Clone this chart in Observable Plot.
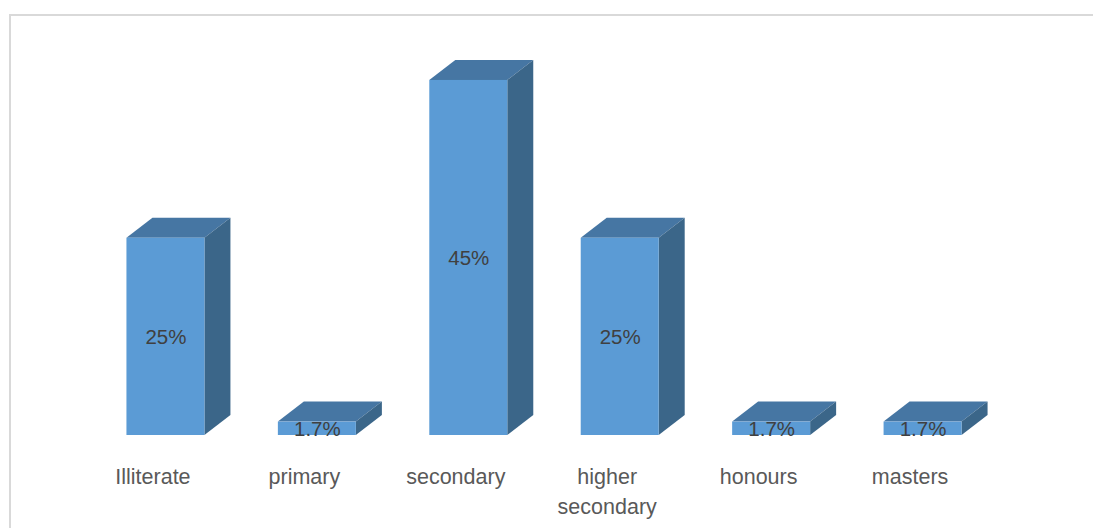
<!DOCTYPE html>
<html>
<head>
<meta charset="utf-8">
<script src="https://cdn.jsdelivr.net/npm/d3@7"></script>
<script src="https://cdn.jsdelivr.net/npm/@observablehq/plot@0.6"></script>
<style>
  html, body { margin: 0; padding: 0; background: #fff; overflow: hidden; }
  #wrap { position: relative; width: 1093px; height: 528px; overflow: hidden; }
  #border { position: absolute; left: 9px; top: 14px; width: 2000px; height: 2000px;
            border-left: 2px solid #d9d9d9; border-top: 2px solid #d9d9d9; }
  #chart { position: absolute; left: 0; top: 0; }
</style>
</head>
<body>
<div id="wrap"><div id="border"></div><div id="chart"></div></div>
<script>
const categories = ["Illiterate", "primary", "secondary", "higher secondary", "honours", "masters"];
const values = [25, 1.7, 45, 25, 1.7, 1.7];
const valueLabels = ["25%", "1.7%", "45%", "25%", "1.7%", "1.7%"];
const categoryLabels = ["Illiterate", "primary", "secondary", "higher\nsecondary", "honours", "masters"];

const data = categories.map((c, i) => ({category: c, value: values[i], label: valueLabels[i], axisLabel: categoryLabels[i]}));

const DEPTH_X = 26, DEPTH_Y = 20;
const FRONT = "#5b9bd5", TOP = "#4676a3", SIDE = "#3b6689";

const chart = Plot.plot({
  width: 1093,
  height: 528,
  marginTop: 40.5,
  marginBottom: 93,
  marginLeft: 53,
  marginRight: 58,
  style: {fontFamily: "'Liberation Sans', Arial, sans-serif", background: "transparent"},
  x: {domain: categories, padding: 0.485, round: false, axis: null},
  y: {domain: [0, 50], axis: null},
  marks: [
    Plot.barY(data, {x: "category", y: "value", fill: FRONT}),
    Plot.text(data, {x: "category", y: d => d.value / 2, text: "label", fontSize: 20.5, fill: "#404040", dy: 0.5}),
    Plot.text(data, {x: "category", frameAnchor: "bottom", text: "axisLabel", dx: -13, dy: 26.5,
      lineAnchor: "top", lineHeight: 1.41, fontSize: 21.5, fill: "#595959"})
  ]
});

// 3D top and side faces, positioned from Plot's own x and y scales
const xs = chart.scale("x"), ys = chart.scale("y");
const w = xs.bandwidth;
const barGroup = chart.querySelector("g[aria-label='bar']");
const faces = d3.create("svg:g").attr("aria-label", "bar-3d-faces");
for (const d of data) {
  const x = xs.apply(d.category);
  const yt = ys.apply(d.value);
  const yb = ys.apply(0);
  const pts = a => a.map(p => p.join(",")).join(" ");
  faces.append("polygon")
    .attr("points", pts([[x, yt], [x + DEPTH_X, yt - DEPTH_Y], [x + w + DEPTH_X, yt - DEPTH_Y], [x + w, yt]]))
    .attr("fill", TOP);
  faces.append("polygon")
    .attr("points", pts([[x + w, yt], [x + w + DEPTH_X, yt - DEPTH_Y], [x + w + DEPTH_X, yb - DEPTH_Y], [x + w, yb]]))
    .attr("fill", SIDE);
}
barGroup.parentNode.insertBefore(faces.node(), barGroup);
document.getElementById("chart").appendChild(chart);
</script>
</body>
</html>
